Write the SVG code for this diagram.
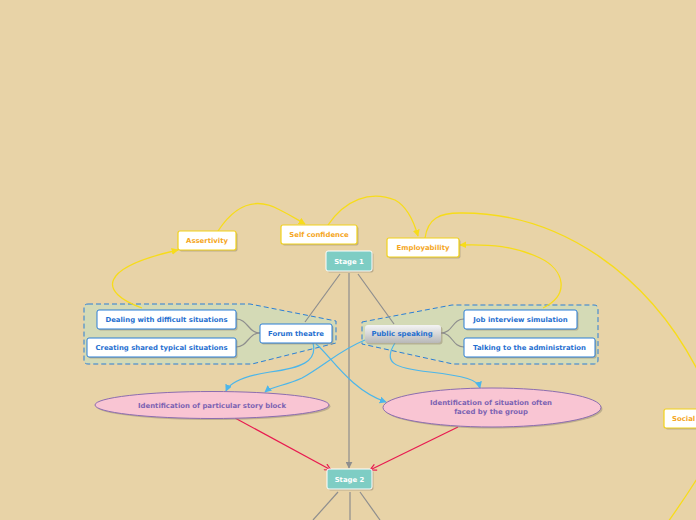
<svg xmlns="http://www.w3.org/2000/svg" width="696" height="520" viewBox="0 0 696 520">
<style>
.bg{fill:#e8d3a7}
.grp{fill:#d4dab6;stroke:#2b7fd6;stroke-width:1;stroke-dasharray:5,3}
.sh{fill:#9a8f78;opacity:0.55}
.wn{fill:#fff;stroke:#2b7fd6;stroke-width:1}
.yn{fill:#fff;stroke:#f2d21c;stroke-width:1.2}
.st{fill:#7ecdc4;stroke:#fff;stroke-width:1}
.el{fill:#f9c5d3;stroke:#8c6db0;stroke-width:1}
text{font-family:"DejaVu Sans",Verdana,sans-serif;font-weight:bold;font-size:6.9px;text-anchor:middle}
.tb{fill:#1f6fd0}
.to{fill:#f5a623}
.tw{fill:#fff}
.tp{fill:#7b62b2}
.gl{fill:none;stroke:#8e8e8e;stroke-width:1.2}
.yl{fill:none;stroke:#f7dc1a;stroke-width:1.3}
.bl{fill:none;stroke:#4cb6ea;stroke-width:1.2}
.rl{fill:none;stroke:#e81a50;stroke-width:1.2}
</style>
<defs>
<linearGradient id="gray" x1="0" y1="0" x2="0" y2="1">
<stop offset="0" stop-color="#f4f4f4"/>
<stop offset="1" stop-color="#b8b8b8"/>
</linearGradient>
<marker id="ay" viewBox="0 0 10 10" refX="9" refY="5" markerWidth="7" markerHeight="7" orient="auto" markerUnits="userSpaceOnUse"><path d="M0,0 L10,5 L0,10 z" fill="#f7dc1a"/></marker>
<marker id="ab" viewBox="0 0 10 10" refX="9" refY="5" markerWidth="7" markerHeight="7" orient="auto" markerUnits="userSpaceOnUse"><path d="M0,0 L10,5 L0,10 z" fill="#4cb6ea"/></marker>
<marker id="ag" viewBox="0 0 10 10" refX="9" refY="5" markerWidth="7" markerHeight="7" orient="auto" markerUnits="userSpaceOnUse"><path d="M0,0 L10,5 L0,10 z" fill="#8e8e8e"/></marker>
<marker id="ar" viewBox="0 0 10 10" refX="9" refY="5" markerWidth="8" markerHeight="8" orient="auto" markerUnits="userSpaceOnUse"><path d="M1,1 L9,5 L1,9" fill="none" stroke="#e81a50" stroke-width="1.5"/></marker>
</defs>
<rect class="bg" x="0" y="0" width="696" height="520"/>

<g id="boundaries">
<path class="grp" d="M88,304 L250,304 L336,321 L336,343 L252,364 L88,364 Q84,364 84,360 L84,308 Q84,304 88,304 z"/>
<path class="grp" d="M362,322 L452,305 L594,305 Q598,305 598,309 L598,360 Q598,364 594,364 L453,364 L362,344 z"/>
</g>

<g id="connectors">
<path class="gl" d="M340,274 L305,322"/>
<path class="gl" d="M358,274 L394,324"/>
<path class="gl" d="M349,273 L349,468" marker-end="url(#ag)"/>
<path class="gl" d="M260,333 C248,333 248,319 236,319"/>
<path class="gl" d="M260,333 C248,333 248,347 236,347"/>
<path class="gl" d="M441,333 C453,333 452,319 464,319"/>
<path class="gl" d="M441,333 C453,333 452,347 464,347"/>
<path class="gl" d="M338,492 L313,520"/>
<path class="gl" d="M350,492 L350,520"/>
<path class="gl" d="M360,492 L380,520"/>
<path class="yl" d="M142,308 C98,292 98,268 178,250" marker-end="url(#ay)"/>
<path class="yl" d="M218,231 C235,205 255,196 280,210 C292,216 298,220 305,224" marker-end="url(#ay)"/>
<path class="yl" d="M328,225 C345,200 370,190 395,200 C408,207 414,222 418,236" marker-end="url(#ay)"/>
<path class="yl" d="M425,238 C428,218 440,213 460,213 C560,212 650,275 700,375"/>
<path class="yl" d="M543,308 C570,295 565,270 540,258 C515,246 490,244 460,245" marker-end="url(#ay)"/>
<path class="yl" d="M700,474 C690,490 680,505 668,522"/>
<path class="bl" d="M313,343 C318,362 300,368 270,372 C245,376 230,382 226,391" marker-end="url(#ab)"/>
<path class="bl" d="M316,344 C330,355 350,390 386,402" marker-end="url(#ab)"/>
<path class="bl" d="M365,340 C340,350 325,365 302,378 C285,386 272,386 265,392" marker-end="url(#ab)"/>
<path class="bl" d="M395,343 C383,362 392,368 430,372 C465,376 478,380 480,388" marker-end="url(#ab)"/>
<path class="rl" d="M235,418 L331,470" marker-end="url(#ar)"/>
<path class="rl" d="M458,427 L370,470" marker-end="url(#ar)"/>
</g>

<g id="assertivity">
<rect class="sh" x="179.5" y="232.5" width="58" height="19" rx="2"/>
<rect class="yn" x="178" y="231" width="58" height="19" rx="2"/>
<text class="to" x="207" y="243">Assertivity</text>
</g>
<g id="self-confidence">
<rect class="sh" x="282.5" y="226.5" width="76" height="19" rx="2"/>
<rect class="yn" x="281" y="225" width="76" height="19" rx="2"/>
<text class="to" x="319" y="237">Self confidence</text>
</g>
<g id="employability">
<rect class="sh" x="388.5" y="239.5" width="72" height="19" rx="2"/>
<rect class="yn" x="387" y="238" width="72" height="19" rx="2"/>
<text class="to" x="423" y="250">Employability</text>
</g>
<g id="social">
<rect class="sh" x="665.5" y="410.5" width="40" height="19" rx="2"/>
<rect class="yn" x="664" y="409" width="40" height="19" rx="2"/>
<text class="to" x="672" y="421" style="text-anchor:start">Social</text>
</g>
<g id="stage1">
<rect class="sh" x="327.5" y="252.5" width="46" height="20" rx="2"/>
<rect class="st" x="326" y="251" width="46" height="20" rx="2"/>
<text class="tw" x="349" y="263.5">Stage 1</text>
</g>
<g id="stage2">
<rect class="sh" x="328.5" y="470.5" width="45" height="20" rx="2"/>
<rect class="st" x="327" y="469" width="45" height="20" rx="2"/>
<text class="tw" x="349.5" y="481.5">Stage 2</text>
</g>
<g id="dealing">
<rect class="sh" x="98.5" y="311.5" width="139" height="19" rx="2"/>
<rect class="wn" x="97" y="310" width="139" height="19" rx="2"/>
<text class="tb" x="166.5" y="322">Dealing with difficult situations</text>
</g>
<g id="creating">
<rect class="sh" x="88.5" y="339.5" width="149" height="19" rx="2"/>
<rect class="wn" x="87" y="338" width="149" height="19" rx="2"/>
<text class="tb" x="161.5" y="350">Creating shared typical situations</text>
</g>
<g id="forum-theatre">
<rect class="sh" x="261.5" y="325.5" width="72" height="19" rx="2"/>
<rect class="wn" x="260" y="324" width="72" height="19" rx="2"/>
<text class="tb" x="296" y="336">Forum theatre</text>
</g>
<g id="public-speaking">
<rect class="sh" x="366.5" y="326.5" width="76" height="18" rx="3"/>
<rect x="365" y="325" width="76" height="18" rx="3" fill="url(#gray)"/>
<text class="tb" x="402" y="336">Public speaking</text>
</g>
<g id="job-interview">
<rect class="sh" x="465.5" y="311.5" width="113" height="19" rx="2"/>
<rect class="wn" x="464" y="310" width="113" height="19" rx="2"/>
<text class="tb" x="520.5" y="322">Job interview simulation</text>
</g>
<g id="talking">
<rect class="sh" x="465.5" y="339.5" width="131" height="19" rx="2"/>
<rect class="wn" x="464" y="338" width="131" height="19" rx="2"/>
<text class="tb" x="529.5" y="350">Talking to the administration</text>
</g>
<g id="story-block">
<ellipse class="sh" cx="213.5" cy="406.5" rx="117" ry="13.5"/>
<ellipse class="el" cx="212" cy="405" rx="117" ry="13.5"/>
<text class="tp" x="212" y="407.5">Identification of particular story block</text>
</g>
<g id="situation">
<ellipse class="sh" cx="493.5" cy="409" rx="109" ry="19.5"/>
<ellipse class="el" cx="492" cy="407.5" rx="109" ry="19.5"/>
<text class="tp" x="491" y="405">Identification of situation often</text>
<text class="tp" x="491" y="413.5">faced by the group</text>
</g>
</svg>
